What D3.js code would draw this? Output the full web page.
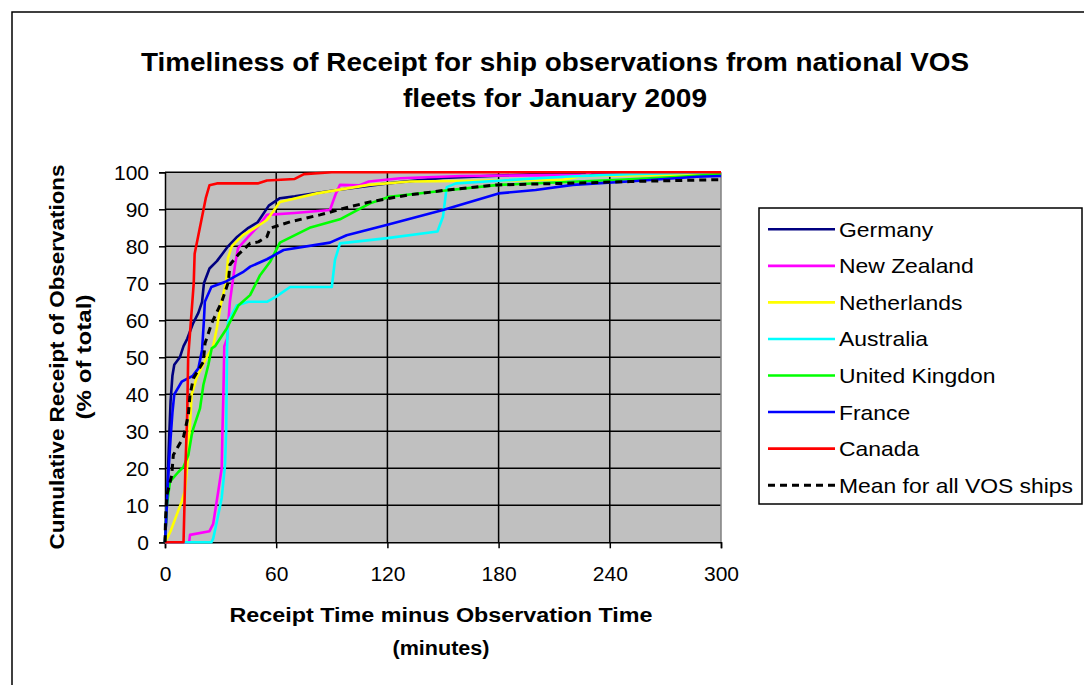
<!DOCTYPE html>
<html><head><meta charset="utf-8">
<script src="https://cdnjs.cloudflare.com/ajax/libs/d3/7.8.5/d3.min.js"></script>
<style>
html,body{margin:0;padding:0;background:#fff;}
svg{display:block;font-family:"Liberation Sans",Arial,sans-serif;}
</style></head>
<body>
<svg id="chart" width="1084" height="685"></svg>
<script>
// ---------- data (minutes, cumulative %) ----------
const seriesNames = ["Germany","New Zealand","Netherlands","Australia","United Kingdon","France","Canada","Mean for all VOS ships"];
const seriesColors = ["#000080","#FF00FF","#FFFF00","#00FFFF","#00FF00","#0000FF","#FF0000","#000000"];

const germany = [[0,0],[1,10],[2,25],[3,38],[4,45],[5,48],[8,50],[10,53],[12,55],[15,59],[18,62],[20,65],[21,70],[24,74],[28,76],[31,78],[34,80],[39,82.6],[45,85],[50,86.5],[56,91],[62,93],[70,93.5],[90,95],[120,97],[150,98.5],[200,99.5],[300,100]];
const newZealand = [[0,0],[13,0],[13.5,2],[24,3],[26,5],[28.8,14],[30.6,20],[31,30],[31.5,40],[32,53],[33.5,55],[35,65],[37.8,75],[39.4,79.5],[45,82.6],[51,85.8],[55,88.5],[70,89],[89,89.8],[92,94],[94.4,96.6],[105,96.5],[110,97.5],[127,98.4],[160,99],[227,99.3],[230,100],[300,100]];
const netherlands = [[0,0],[3,3],[6,7],[9,11],[10.8,14],[12.4,23],[13.5,32],[14.4,40],[17,44.4],[22.5,50],[26,53],[28,58],[30,64],[33,70.4],[34,76.8],[36,80],[42,83],[48.6,85],[55,87.1],[62,92],[82,94.3],[110,96.6],[132,97.5],[215,98],[225,99],[300,99.5]];
const australia = [[0,0],[25,0],[26,1],[28,5.6],[30.6,12],[32.4,21],[33,30],[33.5,53],[34,59.6],[38.7,64],[45,65],[55,65],[60,66.4],[67.5,69],[90,69],[91.7,76.3],[94.4,80.8],[120,82.2],[147,84],[150,88],[152,96],[157,97],[215,98.8],[250,99.5],[300,100]];
const unitedKingdom = [[0,0],[0.5,5],[1,10],[2.7,16.4],[7.2,19],[10,20.4],[12.6,23.6],[14.4,29],[15.3,30.8],[18.9,36.2],[20.7,42.5],[23.4,48],[25.2,52.4],[27,53],[33.3,57.8],[39.6,64],[45.9,66.8],[51.3,72.2],[56.7,75.8],[62,81],[78,85],[94.4,87.3],[110.6,91.6],[121,93.4],[150,95],[180,96.6],[245,98],[278,98.8],[300,99.5]];
const france = [[0,0],[1,10],[2,20],[3,28],[4,35],[5,40],[9,43.4],[15,45],[18,47],[20,52],[21,60],[21.5,65],[25,69],[33,70.5],[42,73],[46,74.5],[55,76.5],[64,79],[89,81],[98,83],[120,85.8],[150,89.8],[180,94.3],[200,95.2],[220,96.6],[250,97.5],[287,98.8],[300,99]];
const canada = [[0,0],[10,0],[10.5,10],[11,20],[12,35],[12.5,50],[14,60],[15.5,70],[16,78],[18,83],[20,88],[22,93],[24,96.5],[28,97],[50,97],[55,97.8],[70,98.2],[75,99.5],[90,100],[300,100]];
const meanAll = [[0,0],[0.3,6.5],[1,12.8],[3.6,18],[4.5,23.6],[10,28.5],[12.6,34.4],[13.5,39.8],[15.3,44.3],[20.7,48.8],[21.6,53.8],[25.2,59.2],[30.6,65],[34.2,70.4],[35,75],[39.6,77.8],[45.9,80.8],[50.4,81.2],[55,82.6],[56.7,84.9],[67.5,86.6],[83.6,88.5],[99.8,90.7],[110.6,92],[121.4,93],[132,93.9],[152,95.2],[179,96.6],[215,97],[251,97.5],[287,97.9],[300,98]];

const seriesData = [germany,newZealand,netherlands,australia,unitedKingdom,france,canada,meanAll];

const xTicks = [0,60,120,180,240,300];
const yTicks = [0,10,20,30,40,50,60,70,80,90,100];

const titleLines = ["Timeliness of Receipt for ship observations from national VOS","fleets for January 2009"];
const yTitleLines = ["Cumulative Receipt of Observations","(% of total)"];
const xTitleLines = ["Receipt Time minus Observation Time","(minutes)"];

// ---------- layout ----------
const svg = d3.select("#chart");
const px0 = 165, px1 = 721, py0 = 172.3, py1 = 542.3;
const x = d3.scaleLinear().domain([0,300]).range([px0,px1]);
const y = d3.scaleLinear().domain([0,100]).range([py1,py0]);

function fitText(sel, target){
  sel.attr("textLength", target).attr("lengthAdjust","spacingAndGlyphs");
}

// outer border
svg.append("rect").attr("x",12).attr("y",12).attr("width",1200).attr("height",800)
  .attr("fill","#fff").attr("stroke","#000").attr("stroke-width",1.5);

// title
const titleY = [62, 98], titleW = [828, 304];
titleLines.forEach((t,i)=>{
  const tx = svg.append("text").attr("x",555).attr("y",titleY[i]).attr("text-anchor","middle")
    .attr("dominant-baseline","central").attr("font-size",25).attr("font-weight","bold").text(t);
  fitText(tx, titleW[i]);
});

// plot background
svg.append("rect").attr("x",px0).attr("y",py0).attr("width",px1-px0).attr("height",py1-py0)
  .attr("fill","#C0C0C0");

// grid
svg.append("g").selectAll("line").data(yTicks.filter(d=>d>0)).join("line")
  .attr("x1",px0).attr("x2",px1).attr("y1",d=>y(d)).attr("y2",d=>y(d))
  .attr("stroke","#000").attr("stroke-width",1.5);
svg.append("g").selectAll("line").data(xTicks.filter(d=>d>0 && d<300)).join("line")
  .attr("x1",d=>x(d)).attr("x2",d=>x(d)).attr("y1",py0).attr("y2",py1)
  .attr("stroke","#000").attr("stroke-width",1.5);
svg.append("line").attr("x1",px1).attr("x2",px1).attr("y1",py0).attr("y2",py1)
  .attr("stroke","#808080").attr("stroke-width",1.5);

// axes
const yAxis = d3.axisLeft(y).tickValues(yTicks).tickSize(6).tickPadding(10);
const gy = svg.append("g").attr("transform",`translate(${px0},0)`).call(yAxis);
const xAxis = d3.axisBottom(x).tickValues(xTicks).tickSize(6).tickPadding(22);
const gx = svg.append("g").attr("transform",`translate(0,${py1})`).call(xAxis);
[gx,gy].forEach(g=>{
  g.select(".domain").attr("stroke","#000").attr("stroke-width",1.5);
  g.selectAll(".tick line").attr("stroke","#000").attr("stroke-width",1.5);
  g.selectAll(".tick text").attr("font-size",21).attr("fill","#000")
    .attr("font-family","'Liberation Sans',Arial,sans-serif");
});
gx.selectAll(".tick text").attr("dy","0.5em");

// series
svg.append("clipPath").attr("id","clipP").append("rect")
  .attr("x",px0-2).attr("y",py0-3).attr("width",px1-px0+4).attr("height",py1-py0+5);
const line = d3.line().x(d=>x(d[0])).y(d=>y(d[1]));
const gl = svg.append("g").attr("clip-path","url(#clipP)");
seriesData.forEach((s,i)=>{
  gl.append("path").datum(s).attr("d",line).attr("fill","none")
    .attr("stroke",seriesColors[i]).attr("stroke-width",i===7?3:2.6)
    .attr("stroke-linejoin","round")
    .attr("stroke-dasharray",i===7?"7,5":null);
});

// axis titles
const xtY = [615, 648], xtW = [423, 97];
xTitleLines.forEach((t,i)=>{
  const tx = svg.append("text").attr("x",441).attr("y",xtY[i]).attr("text-anchor","middle")
    .attr("dominant-baseline","central").attr("font-size",20).attr("font-weight","bold").text(t);
  fitText(tx, xtW[i]);
});
const ytX = [57, 84], ytW = [385, 125];
yTitleLines.forEach((t,i)=>{
  const tx = svg.append("text").attr("transform",`translate(${ytX[i]},357) rotate(-90)`)
    .attr("text-anchor","middle").attr("dominant-baseline","central")
    .attr("font-size",20).attr("font-weight","bold").text(t);
  fitText(tx, ytW[i]);
});

// legend
svg.append("rect").attr("x",759).attr("y",208).attr("width",323).attr("height",296)
  .attr("fill","#fff").attr("stroke","#000").attr("stroke-width",1.5);
const legY0 = 229.3, legDy = 36.55;
const legTexts = [];
seriesNames.forEach((n,i)=>{
  const yy = legY0 + i*legDy;
  svg.append("line").attr("x1",768).attr("x2",835).attr("y1",yy).attr("y2",yy)
    .attr("stroke",seriesColors[i]).attr("stroke-width",i===7?3:2.6)
    .attr("stroke-dasharray",i===7?"7,5":null);
  legTexts.push(svg.append("text").attr("x",839).attr("y",yy).attr("dominant-baseline","central")
    .attr("font-size",21).text(n));
});
const meanW = legTexts[7].node().getComputedTextLength();
const k = 234 / meanW;
legTexts.forEach(t=>{ fitText(t, t.node().getComputedTextLength()*k); });
</script>
</body></html>
